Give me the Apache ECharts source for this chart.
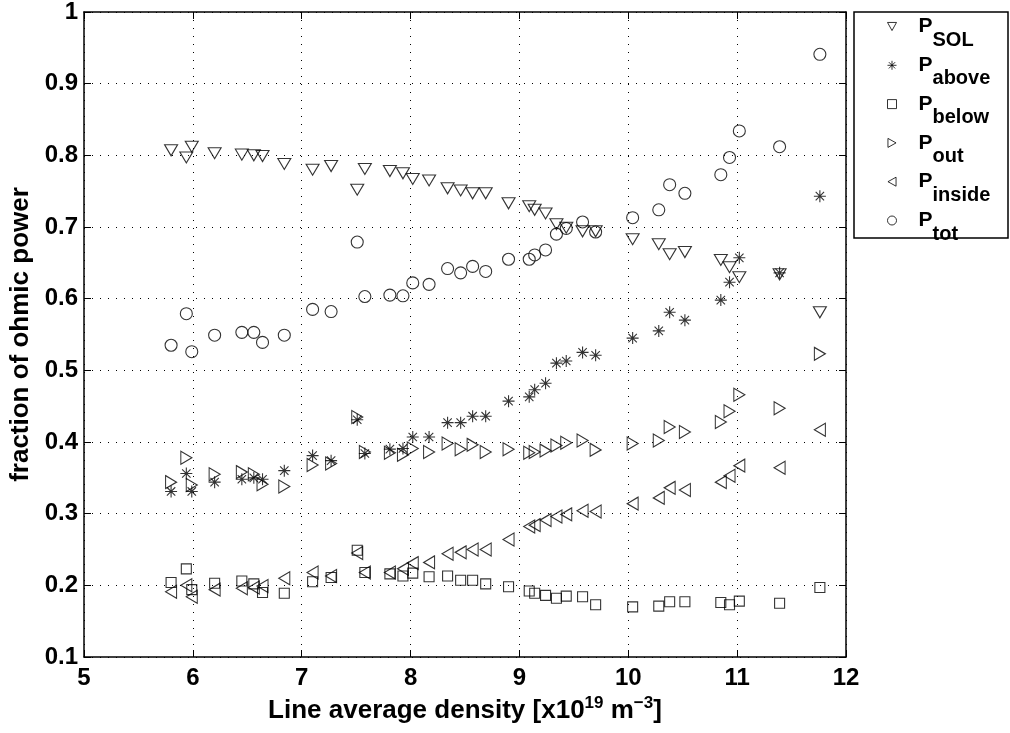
<!DOCTYPE html>
<html>
<head>
<meta charset="utf-8">
<title>fraction of ohmic power</title>
<script src="https://cdn.jsdelivr.net/npm/echarts@6/dist/echarts.min.js"></script>
<style>
  html, body { margin: 0; padding: 0; background: #fff; }
  #main { width: 1010px; height: 733px; }
</style>
</head>
<body>
<div id="main"></div>
<script>
// line average density, x10^19 m^-3 (one value per shot)
let density = [5.80, 5.94, 5.99, 6.20, 6.45, 6.56, 6.64, 6.84, 7.10, 7.27, 7.51, 7.58, 7.81, 7.93, 8.02, 8.17, 8.34, 8.46, 8.57, 8.69,
  8.90, 9.09, 9.14, 9.24, 9.34, 9.43, 9.58, 9.70, 10.04, 10.28, 10.38, 10.52, 10.85, 10.93, 11.02, 11.39, 11.76];

let pSol = [0.807, 0.797, 0.812, 0.803, 0.801, 0.800, 0.799, 0.788, 0.780, 0.785, 0.752, 0.781, 0.778, 0.775, 0.767, 0.765, 0.754, 0.751, 0.747, 0.747,
  0.733, 0.729, 0.724, 0.719, 0.704, 0.699, 0.694, 0.694, 0.683, 0.676, 0.662, 0.665, 0.654, 0.644, 0.630, 0.634, 0.581];
let pAbove = [0.331, 0.356, 0.331, 0.344, 0.348, 0.350, 0.348, 0.360, 0.381, 0.374, 0.431, 0.384, 0.390, 0.391, 0.407, 0.407, 0.427, 0.427, 0.436, 0.436,
  0.457, 0.463, 0.473, 0.482, 0.510, 0.513, 0.525, 0.521, 0.545, 0.555, 0.581, 0.570, 0.598, 0.623, 0.657, 0.636, 0.743];
let pBelow = [0.204, 0.223, 0.194, 0.203, 0.206, 0.202, 0.190, 0.189, 0.205, 0.211, 0.249, 0.218, 0.216, 0.213, 0.217, 0.212, 0.213, 0.207, 0.207, 0.202,
  0.198, 0.192, 0.189, 0.186, 0.182, 0.185, 0.184, 0.173, 0.170, 0.171, 0.177, 0.177, 0.176, 0.173, 0.178, 0.175, 0.197];
let pOut = [0.344, 0.378, 0.340, 0.355, 0.358, 0.355, 0.341, 0.338, 0.368, 0.370, 0.435, 0.386, 0.385, 0.382, 0.391, 0.386, 0.398, 0.390, 0.396, 0.386,
  0.390, 0.385, 0.386, 0.388, 0.395, 0.399, 0.402, 0.389, 0.398, 0.402, 0.421, 0.414, 0.428, 0.443, 0.466, 0.447, 0.523];
let pInside = [0.191, 0.200, 0.184, 0.194, 0.196, 0.197, 0.199, 0.210, 0.218, 0.213, 0.245, 0.218, 0.218, 0.223, 0.231, 0.232, 0.244, 0.246, 0.250, 0.250,
  0.264, 0.282, 0.284, 0.291, 0.296, 0.299, 0.304, 0.303, 0.314, 0.322, 0.336, 0.333, 0.344, 0.353, 0.367, 0.364, 0.417];
let pTot = [0.535, 0.579, 0.526, 0.549, 0.553, 0.553, 0.539, 0.549, 0.585, 0.582, 0.679, 0.603, 0.605, 0.604, 0.622, 0.620, 0.642, 0.636, 0.645, 0.638,
  0.655, 0.655, 0.661, 0.668, 0.690, 0.698, 0.707, 0.693, 0.713, 0.724, 0.759, 0.747, 0.773, 0.797, 0.834, 0.812, 0.941];

let seriesNames = ['P_SOL', 'P_above', 'P_below', 'P_out', 'P_inside', 'P_tot'];

let font = "'Liberation Sans', Arial, Helvetica, sans-serif";
// marker shapes (matlab style), [symbol, size]
let markers = [
  ['path://M0,0L10,0L5,9Z', [13, 11]],
  ['path://M5,0L5,10M0,5L10,5M1.5,1.5L8.5,8.5M1.5,8.5L8.5,1.5', 12],
  ['rect', 10],
  ['path://M0,0L9,5L0,10Z', [11, 13]],
  ['path://M9,0L0,5L9,10Z', [11, 13]],
  ['circle', 12]
];

function pairs(ys) {
  let arr = [];
  for (let i = 0; i < density.length; i++) {
    arr.push([density[i], ys[i]]);
  }
  return arr;
}

function scatter(idx, ys) {
  return {
    name: seriesNames[idx],
    type: 'scatter',
    data: pairs(ys),
    symbol: markers[idx][0],
    symbolSize: markers[idx][1],
    itemStyle: { color: 'transparent', borderColor: '#000', borderWidth: 1.1 },
    emphasis: { disabled: true },
    animation: false
  };
}

function getOption() {
  let boxAxis = {
    axisLine: { show: true, lineStyle: { color: '#000', width: 1.5 } },
    axisTick: { show: true, inside: true, length: 7, lineStyle: { color: '#000' } },
    axisLabel: { show: false },
    splitLine: { show: false }
  };
  let legendData = seriesNames.map((name, i) => ({ name: name, icon: markers[i][0] }));
  return {
    backgroundColor: '#fff',
    animation: false,
    grid: { left: 84, right: 164, top: 12, bottom: 76, outerBoundsMode: 'none' },
    xAxis: [{
      type: 'value', min: 5, max: 12, interval: 1,
      name: '{n|Line average density [x10}{sup|19}{n| m}{sup|\u22123}{n|]}',
      nameLocation: 'middle', nameGap: 36,
      nameTextStyle: {
        rich: {
          n: { fontFamily: font, fontWeight: 'bold', fontSize: 26, lineHeight: 26, color: '#000', verticalAlign: 'bottom' },
          sup: { fontFamily: font, fontWeight: 'bold', fontSize: 17, lineHeight: 17, padding: [0, 0, 12, 0], color: '#000', verticalAlign: 'bottom' }
        }
      },
      axisLine: { lineStyle: { color: '#000', width: 1.5 } },
      axisTick: { inside: true, length: 7, lineStyle: { color: '#000' } },
      axisLabel: { fontFamily: font, fontWeight: 'bold', fontSize: 24, color: '#000', margin: 9 },
      splitLine: { show: true, lineStyle: { type: [1, 7], color: '#000', width: 1 } }
    }, Object.assign({ type: 'value', min: 5, max: 12, interval: 1, position: 'top' }, boxAxis)],
    yAxis: [{
      type: 'value', min: 0.1, max: 1, interval: 0.1,
      name: 'fraction of ohmic power',
      nameLocation: 'middle', nameGap: 49, nameRotate: 90,
      nameTextStyle: { fontFamily: font, fontWeight: 'bold', fontSize: 26, color: '#000' },
      axisLine: { lineStyle: { color: '#000', width: 1.5 } },
      axisTick: { inside: true, length: 7, lineStyle: { color: '#000' } },
      axisLabel: {
        fontFamily: font, fontWeight: 'bold', fontSize: 24, color: '#000', margin: 6,
        formatter: v => String(+v.toFixed(1))
      },
      splitLine: { show: true, lineStyle: { type: [1, 7], color: '#000', width: 1 } }
    }, Object.assign({ type: 'value', min: 0.1, max: 1, interval: 0.1, position: 'right' }, boxAxis)],
    legend: {
      orient: 'vertical', left: 887, top: 16, padding: 0,
      itemWidth: 9, itemHeight: 9, itemGap: 4.8,
      selectedMode: false,
      itemStyle: { color: 'transparent', borderColor: '#000', borderWidth: 1 },
      data: legendData,
      formatter: name => {
        let parts = name.split('_');
        return '{p|' + parts[0] + '}{s|' + parts[1] + '}';
      },
      textStyle: {
        rich: {
          p: { fontFamily: font, fontWeight: 'bold', fontSize: 21, lineHeight: 21, color: '#000', padding: [0, 0, 0, 17], verticalAlign: 'top' },
          s: { fontFamily: font, fontWeight: 'bold', fontSize: 20, lineHeight: 20, color: '#000', padding: [14, 0, 0, 0], verticalAlign: 'top' }
        }
      }
    },
    graphic: [{
      type: 'rect', z: 0,
      shape: { x: 854, y: 12, width: 154, height: 226 },
      style: { fill: 'none', stroke: '#000', lineWidth: 1.5 }
    }],
    series: [
      scatter(0, pSol),
      scatter(1, pAbove),
      scatter(2, pBelow),
      scatter(3, pOut),
      scatter(4, pInside),
      scatter(5, pTot)
    ]
  };
}

let chart = echarts.init(document.getElementById('main'), null, { renderer: 'canvas' });
chart.setOption(getOption());
</script>
</body>
</html>
